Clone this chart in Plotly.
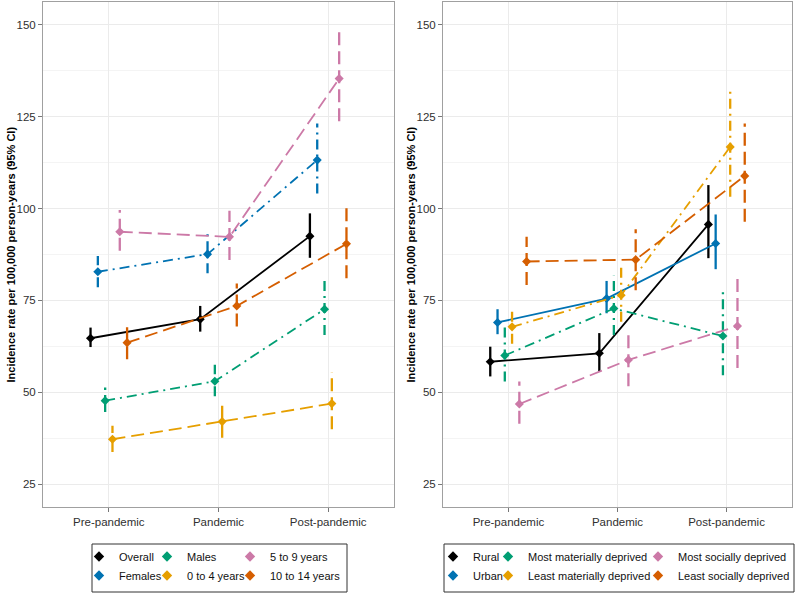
import plotly.graph_objects as go

# ---------------- data ----------------
periods = ["Pre-pandemic", "Pandemic", "Post-pandemic"]
y_ticks = [25, 50, 75, 100, 125, 150]

left_groups = ["Overall", "Females", "Males", "0 to 4 years", "5 to 9 years", "10 to 14 years"]
left_rate = [
    [64.7, 69.9, 92.5],
    [82.8, 87.6, 113.2],
    [47.7, 53.0, 72.6],
    [37.2, 42.0, 46.9],
    [93.7, 92.3, 135.4],
    [63.5, 73.5, 90.4],
]
left_lower = [
    [62.3, 66.5, 86.6],
    [78.6, 82.4, 104.1],
    [44.6, 48.9, 65.6],
    [33.7, 37.6, 39.9],
    [88.5, 86.0, 123.8],
    [59.0, 67.9, 81.0],
]
left_upper = [
    [67.6, 73.5, 98.7],
    [87.1, 93.3, 123.2],
    [51.3, 57.5, 80.6],
    [40.9, 47.0, 55.5],
    [99.6, 99.4, 148.0],
    [68.3, 79.6, 101.0],
]

right_groups = ["Rural", "Urban", "Most materially deprived", "Least materially deprived",
                "Most socially deprived", "Least socially deprived"]
right_rate = [
    [58.3, 60.6, 95.7],
    [69.0, 75.5, 90.5],
    [60.0, 72.8, 65.3],
    [67.8, 76.4, 116.8],
    [46.8, 58.8, 68.0],
    [85.6, 86.1, 108.9],
]
right_lower = [
    [54.3, 55.7, 86.5],
    [65.8, 71.5, 83.5],
    [52.9, 65.6, 54.6],
    [63.2, 69.2, 103.2],
    [41.4, 51.6, 56.6],
    [79.2, 77.8, 96.4],
]
right_upper = [
    [62.4, 66.1, 106.4],
    [72.6, 80.3, 98.4],
    [67.9, 81.7, 78.0],
    [72.9, 84.2, 132.4],
    [52.9, 67.0, 81.7],
    [92.3, 94.4, 123.2],
]

# ---------------- styles ----------------
colors = ["#000000", "#0072B2", "#009E73", "#E69F00", "#CC79A7", "#D55E00"]
LONG = "13px,6px"
DASHDOT = "10px,5px,2px,5px"
left_dash = ["solid", DASHDOT, DASHDOT, LONG, LONG, LONG]
right_dash = ["solid", "solid", DASHDOT, DASHDOT, LONG, LONG]
dodge_width = 0.4
FONT = "Liberation Sans, Arial, sans-serif"
W, H = 800, 594

fig = go.Figure()


def add_panel(groups, rate, lower, upper, dashes, xa, ya, legend_prefix_index):
    n = len(groups)
    for i, g in enumerate(groups):
        off = -dodge_width / 2 + (i + 0.5) * dodge_width / n
        xs = [k + 1 + off for k in range(len(periods))]
        # CI segments
        ex, ey = [], []
        for k in range(len(periods)):
            ex += [xs[k], xs[k], None]
            ey += [lower[i][k], upper[i][k], None]
        fig.add_trace(go.Scatter(
            x=ex, y=ey, mode="lines", xaxis=xa, yaxis=ya,
            line=dict(color=colors[i], width=2.3, dash=dashes[i]),
            showlegend=False, hoverinfo="skip"))
        fig.add_trace(go.Scatter(
            x=xs, y=rate[i], mode="lines+markers", xaxis=xa, yaxis=ya,
            line=dict(color=colors[i], width=1.8, dash=dashes[i]),
            marker=dict(symbol="diamond", size=7, color=colors[i]),
            showlegend=False, name=g))
        # legend entry (column-major like ggplot: two rows, three columns)
        col = i // 2
        lname = "legend" if legend_prefix_index + col == 1 else f"legend{legend_prefix_index + col}"
        fig.add_trace(go.Scatter(
            x=[None], y=[None], mode="markers", xaxis=xa, yaxis=ya,
            marker=dict(symbol="diamond", size=8, color=colors[i]),
            name=g, legend=lname, showlegend=True))


add_panel(left_groups, left_rate, left_lower, left_upper, left_dash, "x", "y", 1)
add_panel(right_groups, right_rate, right_lower, right_upper, right_dash, "x2", "y2", 4)

# ---------------- layout ----------------
axis_common = dict(
    showgrid=True, gridcolor="#EBEBEB", gridwidth=1,
    showline=True, mirror=True, linecolor="#A0A0A0", linewidth=1,
    ticks="outside", ticklen=4, tickcolor="#777", tickwidth=1,
    zeroline=False, tickfont=dict(size=11.5, color="#303030", family=FONT),
)
xdom_left = [43 / W, 394 / W]
xdom_right = [443 / W, 792 / W]
ydom = [87 / H, 592 / H]

xa = dict(axis_common, range=[0.4, 3.6], tickmode="array", tickvals=[1, 2, 3], ticktext=periods)
ya = dict(axis_common, range=[18.75, 156.25], tickmode="array", tickvals=y_ticks,
          minor=dict(tickmode="linear", tick0=12.5, dtick=25, showgrid=True,
                     gridcolor="#F4F4F4", gridwidth=0.6, ticks=""))

legend_cols_text_x = [119, 187, 270, 473, 528, 678]
legend_top = 542
legends = {}
for j, tx in enumerate(legend_cols_text_x):
    key = "legend" if j == 0 else f"legend{j + 1}"
    legends[key] = dict(
        x=(tx - 40) / W, xanchor="left", y=1 - legend_top / H, yanchor="top",
        orientation="v", bgcolor="rgba(0,0,0,0)", borderwidth=0,
        font=dict(size=11, color="#111", family=FONT), tracegroupgap=0,
    )

ytitle = "<b>Incidence rate per 100,000 person-years (95% CI)</b>"
fig.update_layout(
    width=W, height=H, margin=dict(l=0, r=0, t=0, b=0),
    plot_bgcolor="white", paper_bgcolor="white",
    font=dict(family=FONT, size=11, color="#333"),
    xaxis=dict(xa, domain=xdom_left, anchor="y"),
    yaxis=dict(ya, domain=ydom, anchor="x"),
    xaxis2=dict(xa, domain=xdom_right, anchor="y2"),
    yaxis2=dict(ya, domain=ydom, anchor="x2"),
    annotations=[
        dict(text=ytitle, x=11 / W, y=1 - 254.5 / H, xref="paper", yref="paper",
             textangle=-90, showarrow=False, xanchor="center", yanchor="middle",
             font=dict(size=11, color="#000", family=FONT)),
        dict(text=ytitle, x=411 / W, y=1 - 254.5 / H, xref="paper", yref="paper",
             textangle=-90, showarrow=False, xanchor="center", yanchor="middle",
             font=dict(size=11, color="#000", family=FONT)),
    ],
    shapes=[
        dict(type="rect", xref="paper", yref="paper", x0=92 / W, x1=347 / W,
             y0=1 - 592 / H, y1=1 - 544 / H, line=dict(color="#333", width=1)),
        dict(type="rect", xref="paper", yref="paper", x0=444 / W, x1=794 / W,
             y0=1 - 592 / H, y1=1 - 544 / H, line=dict(color="#333", width=1)),
    ],
    hovermode=False,
    **legends,
)

fig.write_html("out.html")
